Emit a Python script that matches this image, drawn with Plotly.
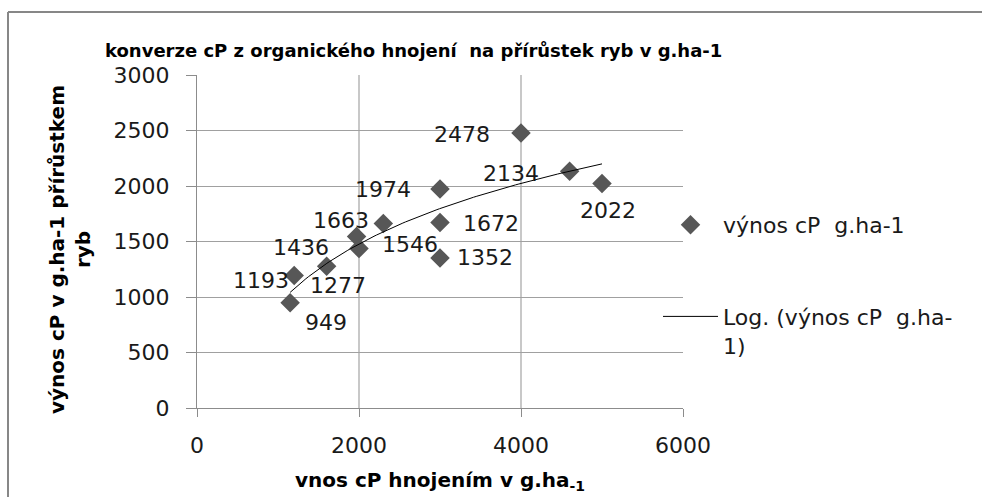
import numpy as np
import plotly.graph_objects as go

# ---- data ----
x_vals = [1150, 1200, 1600, 2000, 1970, 2300, 3000, 3000, 3000, 4000, 4600, 5000]
y_vals = [949, 1193, 1277, 1436, 1546, 1663, 1974, 1672, 1352, 2478, 2134, 2022]
point_labels = [str(v) for v in y_vals]
x_ticks = [0, 2000, 4000, 6000]
y_ticks = [0, 500, 1000, 1500, 2000, 2500, 3000]

# label offsets in pixels (dx, dy; dy positive downward)
label_dx = [36, -33, 11, -58, 53, -42, -57, 51, 45, -59, -59, 6]
label_dy = [20, 5, 19, -1, 8, -3, 1, 1, 0, 2, 2, 27]

title_text = "konverze cP z organického hnojení  na přírůstek ryb v g.ha-1"
x_title = "vnos cP hnojením v g.ha<sub>-1</sub>"
y_title = "výnos cP v g.ha-1 přírůstkem<br>ryb"
series_name = "výnos cP  g.ha-1"
trend_name = "Log. (výnos cP  g.ha-<br>1)"

# logarithmic trendline (least squares y = a*ln(x) + b), as Excel does
a, b = np.polyfit(np.log(x_vals), y_vals, 1)
tx = np.linspace(min(x_vals), max(x_vals), 120)
ty = a * np.log(tx) + b

FONT = "DejaVu Sans"
W, H = 982, 497
L, R, T, B = 197, 683, 75, 408


def px(xp):
    return (xp - L) / (R - L)


def py(yp):
    return (B - yp) / (B - T)


fig = go.Figure()
fig.add_trace(go.Scatter(
    x=x_vals, y=y_vals, mode="markers", name=series_name,
    marker=dict(symbol="diamond", size=15, color="#575757",
                line=dict(width=0)),
    legendgroup="a",
))
fig.add_trace(go.Scatter(
    x=tx, y=ty, mode="lines", name=trend_name,
    line=dict(color="#000000", width=1),
    legendgroup="b",
))

for xv, yv, lab, dx, dy in zip(x_vals, y_vals, point_labels, label_dx, label_dy):
    fig.add_annotation(x=xv, y=yv, xref="x", yref="y", text=lab, showarrow=False,
                       xshift=dx, yshift=-dy,
                       font=dict(family=FONT, size=22, color="#1a1a1a"))

# chart title
fig.add_annotation(xref="paper", yref="paper", x=px(103), y=py(50), text="<b>" + title_text + "</b>",
                   showarrow=False, xanchor="left", yanchor="middle",
                   font=dict(family=FONT, size=18, color="#000000"))
# axis titles
fig.add_annotation(xref="paper", yref="paper", x=0.5, y=py(481), text="<b>" + x_title + "</b>",
                   showarrow=False, xanchor="center", yanchor="middle",
                   font=dict(family=FONT, size=20, color="#000000"))
fig.add_annotation(xref="paper", yref="paper", x=px(70), y=py(250), text="<b>" + y_title + "</b>",
                   showarrow=False, xanchor="center", yanchor="middle", textangle=-90,
                   font=dict(family=FONT, size=20, color="#000000"))

# chart frame (left and top edges visible)
fig.add_shape(type="line", xref="paper", yref="paper", x0=px(8), x1=px(8), y0=py(12), y1=py(H + 5),
              line=dict(color="#878787", width=2))
fig.add_shape(type="line", xref="paper", yref="paper", x0=px(8), x1=px(W + 5), y0=py(12), y1=py(12),
              line=dict(color="#878787", width=2))

fig.update_layout(
    width=W, height=H,
    margin=dict(l=L, r=W - R, t=T, b=H - B, pad=0),
    paper_bgcolor="white", plot_bgcolor="white",
    font=dict(family=FONT, size=22, color="#1a1a1a"),
    showlegend=True,
    legend=dict(x=px(658), y=py(204), xanchor="left", yanchor="top",
                bgcolor="rgba(0,0,0,0)", tracegroupgap=60, valign="top",
                font=dict(family=FONT, size=22, color="#1a1a1a"), itemwidth=55),
    xaxis=dict(range=[0, 6000], tickvals=x_ticks, showgrid=True, gridcolor="#c8c8c8", gridwidth=2,
               zeroline=False, showline=True, linecolor="#8c8c8c", linewidth=1,
               ticks="outside", ticklen=8, tickcolor="#8c8c8c", ticklabelstandoff=10,
               tickfont=dict(family=FONT, size=22, color="#1a1a1a")),
    yaxis=dict(range=[0, 3000], tickvals=y_ticks, showgrid=True, gridcolor="#a0a0a0", gridwidth=1,
               zeroline=False, showline=True, linecolor="#8c8c8c", linewidth=1,
               ticks="outside", ticklen=10, tickcolor="#8c8c8c", ticklabelstandoff=12,
               tickfont=dict(family=FONT, size=22, color="#1a1a1a")),
)

fig.write_html("out.html", config={"displayModeBar": False},
               post_script="document.body.style.margin='0';document.body.style.overflow='hidden';")
